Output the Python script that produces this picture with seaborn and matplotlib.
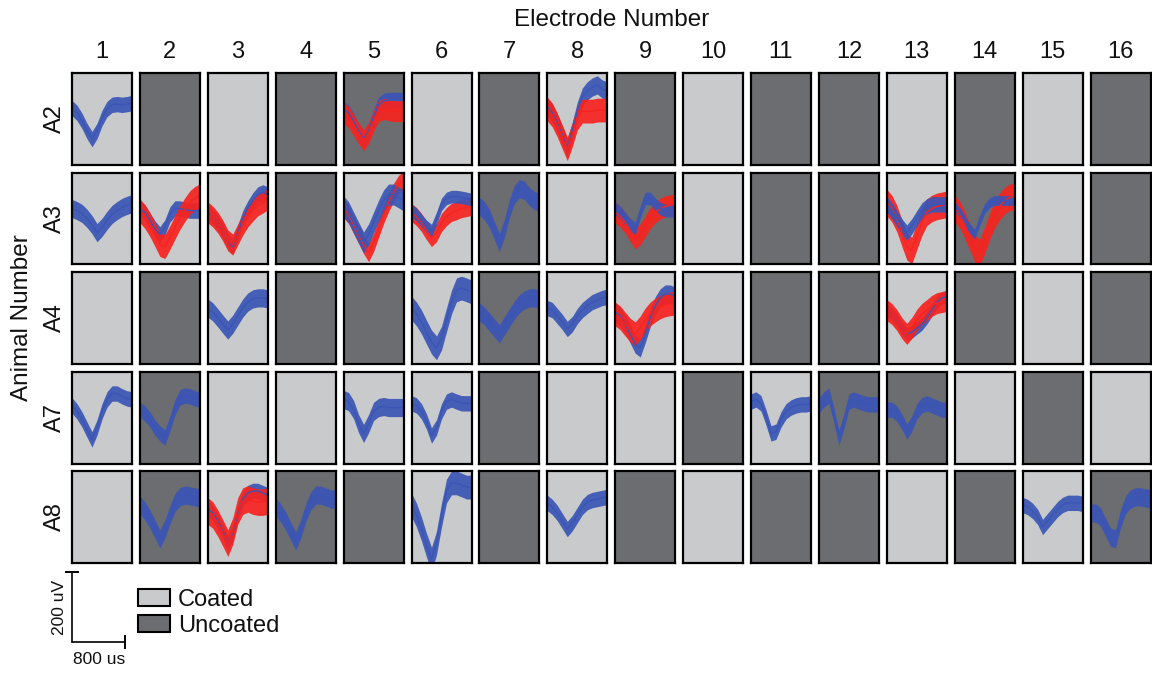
import pandas as pd
import matplotlib
matplotlib.use("Agg")
import matplotlib.pyplot as plt
from matplotlib.patches import Patch
import seaborn as sns

sns.set_theme(style="white")
plt.rcParams['font.family'] = ['Liberation Sans', 'DejaVu Sans']
plt.rcParams['text.color'] = '#111111'

# grid labels
animals = ['A2', 'A3', 'A4', 'A7', 'A8']
electrodes = list(range(1, 17))

# C = coated, U = uncoated, one entry per electrode
coating_A2 = ['C', 'U', 'C', 'U', 'U', 'C', 'U', 'C', 'U', 'C', 'U', 'U', 'C', 'U', 'C', 'U']
coating_A3 = ['C', 'C', 'C', 'U', 'C', 'C', 'U', 'C', 'U', 'C', 'U', 'U', 'C', 'U', 'C', 'U']
coating_A4 = ['C', 'U', 'C', 'U', 'U', 'C', 'U', 'C', 'C', 'C', 'U', 'U', 'C', 'U', 'C', 'U']
coating_A7 = ['C', 'U', 'C', 'C', 'C', 'C', 'U', 'C', 'C', 'U', 'C', 'U', 'U', 'C', 'U', 'C']
coating_A8 = ['C', 'U', 'C', 'U', 'U', 'C', 'U', 'C', 'U', 'C', 'U', 'U', 'C', 'U', 'C', 'U']
coating = {'A2': coating_A2, 'A3': coating_A3, 'A4': coating_A4, 'A7': coating_A7, 'A8': coating_A8}

# waveform samples (us)
time_us = [0, 75, 150, 225, 300, 375, 450, 525, 600, 675, 750, 825, 900]

# sorted units: where they were recorded, cluster colour, spread and mean waveform (uV)
unit_animal = ['A2', 'A2', 'A2', 'A2', 'A2',
               'A3', 'A3', 'A3', 'A3', 'A3', 'A3', 'A3', 'A3', 'A3', 'A3', 'A3', 'A3', 'A3', 'A3', 'A3', 'A3',
               'A4', 'A4', 'A4', 'A4', 'A4', 'A4', 'A4', 'A4',
               'A7', 'A7', 'A7', 'A7', 'A7', 'A7', 'A7',
               'A8', 'A8', 'A8', 'A8', 'A8', 'A8', 'A8', 'A8']
unit_electrode = [1, 5, 5, 8, 8,
                  1, 2, 2, 3, 3, 5, 5, 6, 6, 7, 9, 9, 13, 13, 14, 14,
                  3, 6, 7, 8, 9, 9, 13, 13,
                  1, 2, 5, 6, 11, 12, 13,
                  2, 3, 3, 4, 6, 8, 15, 16]
unit_colour = ['blue', 'blue', 'red', 'blue', 'red',
               'blue', 'blue', 'red', 'blue', 'red', 'red', 'blue', 'red', 'blue', 'blue', 'red', 'blue',
               'red', 'blue', 'red', 'blue',
               'blue', 'blue', 'blue', 'blue', 'blue', 'red', 'blue', 'red',
               'blue', 'blue', 'blue', 'blue', 'blue', 'blue', 'blue',
               'blue', 'blue', 'red', 'blue', 'blue', 'blue', 'blue', 'blue']
unit_spread_uv = [22, 22, 30, 26, 34,
                  26, 22, 34, 22, 30, 26, 30, 26, 18, 26, 30, 18, 38, 22, 38, 14,
                  26, 34, 26, 22, 26, 34, 18, 30,
                  22, 22, 26, 22, 22, 22, 22,
                  26, 22, 38, 26, 34, 22, 22, 26]
unit_wave_uv = [
    [-20, -34, -57, -86, -109, -86, -49, -23, -11, -9, -11, -9, -6],
    [-23, -34, -57, -86, -109, -86, -46, -11, 0, 3, 3, 3, 3],
    [-34, -46, -69, -92, -112, -92, -57, -29, -23, -26, -29, -29, -29],
    [-17, -34, -63, -97, -134, -86, -29, 11, 29, 40, 46, 34, 29],
    [-23, -40, -69, -103, -137, -97, -49, -29, -29, -29, -26, -26, -26],
    [-23, -29, -37, -51, -69, -92, -77, -57, -40, -29, -20, -14, -9],
    [-23, -34, -57, -80, -97, -77, -40, -23, -23, -26, -29, -29, -29],
    [-29, -46, -69, -97, -126, -132, -106, -77, -49, -26, -6, 6, 14],
    [-34, -46, -63, -86, -114, -132, -92, -51, -23, 0, 17, 23, 17],
    [-34, -46, -63, -86, -114, -126, -97, -69, -46, -29, -14, -6, 3],
    [-23, -40, -69, -97, -126, -149, -120, -80, -40, -6, 23, 46, 57],
    [-17, -34, -63, -92, -120, -97, -63, -29, 0, 17, 17, 9, 0],
    [-34, -46, -63, -86, -106, -92, -63, -46, -34, -29, -23, -20, -17],
    [-29, -40, -57, -74, -86, -51, -11, 6, 11, 11, 9, 6, 3],
    [-17, -29, -51, -86, -120, -80, -23, 17, 34, 29, 11, 0, -6],
    [-34, -46, -63, -86, -109, -97, -74, -51, -34, -23, -17, -14, -11],
    [-23, -34, -51, -69, -80, -34, 6, 6, -11, -23, -29, -29, -29],
    [-6, -23, -51, -92, -132, -143, -103, -63, -34, -23, -17, -14, -11],
    [-11, -29, -51, -74, -92, -74, -51, -29, -17, -11, -11, -11, -11],
    [-23, -40, -69, -103, -137, -149, -114, -74, -40, -17, 0, 9, 11],
    [-17, -34, -57, -80, -97, -57, -23, -6, 0, 0, 0, 0, 0],
    [-23, -34, -51, -69, -86, -69, -46, -23, -6, 3, 6, 6, 3],
    [-23, -40, -63, -92, -120, -137, -109, -57, -6, 29, 34, 29, 23],
    [-34, -46, -63, -80, -97, -74, -51, -29, -11, 0, 6, 6, 3],
    [-23, -29, -46, -63, -83, -69, -46, -29, -17, -6, 0, 6, 9],
    [-34, -46, -69, -97, -126, -137, -97, -51, -17, 6, 17, 17, 11],
    [-40, -51, -69, -86, -97, -80, -57, -40, -29, -20, -14, -11, -9],
    [-29, -40, -57, -80, -97, -92, -80, -69, -51, -29, -6, 6, 9],
    [-29, -40, -57, -80, -97, -80, -57, -40, -29, -17, -9, -6, -3],
    [-17, -34, -57, -86, -114, -80, -34, 0, 17, 17, 9, 3, 0],
    [-29, -40, -57, -80, -97, -109, -69, -23, 6, 11, 9, 3, 0],
    [0, -6, -29, -69, -97, -69, -34, -23, -20, -23, -23, -23, -23],
    [-11, -17, -34, -63, -103, -80, -34, -6, 0, -6, -11, -11, -11],
    [-6, 0, -11, -51, -97, -92, -57, -34, -23, -17, -14, -14, -11],
    [-17, 0, 11, -46, -109, -63, -6, 0, -6, -11, -14, -14, -14],
    [-29, -29, -40, -63, -92, -69, -34, -17, -11, -17, -23, -29, -29],
    [-17, -34, -57, -86, -114, -86, -46, -11, 6, 11, 9, 6, 3],
    [-29, -40, -63, -92, -126, -97, -40, 0, 17, 23, 23, 17, 11],
    [-34, -46, -69, -97, -126, -92, -34, -6, 0, -6, -9, -9, -6],
    [-23, -40, -63, -92, -120, -86, -40, -6, 11, 11, 6, 0, 0],
    [-17, -46, -86, -132, -172, -126, -46, 23, 46, 46, 40, 34, 34],
    [-11, -23, -40, -63, -86, -69, -46, -23, -9, -3, 0, 3, 6],
    [-17, -23, -34, -51, -80, -63, -46, -29, -17, -11, -11, -11, -14],
    [-40, -40, -51, -80, -109, -114, -57, -17, 0, 6, 6, 3, 0],
]

# scale bar
scale_bar_uv = 200
scale_bar_us = 800

colours = {'blue': '#3a55b5', 'red': '#f7231f'}
fills = {'C': '#c8cacc', 'U': '#6b6d70'}

# long table: each sample gives mean, lower and upper edge of the cluster
rows = []
for i in range(len(unit_wave_uv)):
    for t, v in zip(time_us, unit_wave_uv[i]):
        for edge in (-unit_spread_uv[i], 0, unit_spread_uv[i]):
            rows.append({'unit': i, 'animal': unit_animal[i], 'electrode': unit_electrode[i],
                         'colour': unit_colour[i], 'time_us': t, 'uv': v + edge})
df = pd.DataFrame(rows)

W, H = 1152, 673
fig = plt.figure(figsize=(W / 100, H / 100), dpi=100)


def px_axes(x, y, w, h):
    return fig.add_axes([x / W, 1 - (y + h) / H, w / W, h / H])


panel_w, panel_h = 60, 92
col_step, row_step = 67.9, 99.5
x0, y0 = 72, 73
ylim = (-183, 80)

for r, a in enumerate(animals):
    for c, e in enumerate(electrodes):
        ax = px_axes(x0 + c * col_step, y0 + r * row_step, panel_w, panel_h)
        ax.set_facecolor(fills[coating[a][c]])
        sub = df[(df['animal'] == a) & (df['electrode'] == e)]
        for u in sub['unit'].unique():
            d = sub[sub['unit'] == u]
            sns.lineplot(data=d, x='time_us', y='uv', errorbar=('pi', 100),
                         color=colours[d['colour'].iloc[0]], linewidth=1.0,
                         err_kws={'alpha': 0.92, 'linewidth': 0}, ax=ax)
        ax.set_xlim(time_us[0], time_us[-1])
        ax.set_ylim(*ylim)
        ax.set_xticks([])
        ax.set_yticks([])
        ax.set_xlabel('')
        ax.set_ylabel('')
        for s in ax.spines.values():
            s.set_color('black')
            s.set_linewidth(1.6)
        if r == 0:
            fig.text((x0 + c * col_step + panel_w / 2) / W, 1 - 52 / H, str(e),
                     ha='center', va='center', fontsize=17)
    fig.text(55 / W, 1 - (y0 + r * row_step + panel_h / 2) / H, a, rotation=90,
             ha='center', va='center', fontsize=17)

fig.text(612 / W, 1 - 20 / H, 'Electrode Number', ha='center', va='center', fontsize=17.5)
fig.text(22 / W, 1 - 318 / H, 'Animal Number', rotation=90, ha='center', va='center', fontsize=17.5)

# scale bar drawn with the same units as the panels
sax = px_axes(72, 572, panel_w, panel_h)
sax.set_xlim(time_us[0], time_us[-1])
sax.set_ylim(scale_bar_uv - (ylim[1] - ylim[0]), scale_bar_uv)
sax.axis('off')
sax.plot([0, 0], [0, scale_bar_uv], color='black', lw=1.2, clip_on=False)
sax.plot([0, scale_bar_us], [0, 0], color='black', lw=1.2, clip_on=False)
sax.plot([0], [scale_bar_uv], marker='_', ms=10, mew=1.4, color='black', clip_on=False)
sax.plot([scale_bar_us], [0], marker='|', ms=10, mew=1.4, color='black', clip_on=False)
sax.annotate('200 uV', xy=(0, scale_bar_uv / 2), xytext=(-12, 0), textcoords='offset pixels',
             rotation=90, ha='center', va='center', fontsize=12.5)
sax.annotate('800 us', xy=(scale_bar_us / 2, 0), xytext=(0, -18), textcoords='offset pixels',
             ha='center', va='center', fontsize=12.5)

handles = [Patch(facecolor=fills['C'], edgecolor='black', linewidth=1.5, label='Coated'),
           Patch(facecolor=fills['U'], edgecolor='black', linewidth=1.5, label='Uncoated')]
fig.legend(handles=handles, loc='upper left', bbox_to_anchor=(138 / W, 1 - 589 / H),
           frameon=False, fontsize=17, handlelength=1.35, handleheight=0.7,
           handletextpad=0.35, labelspacing=0.15, borderpad=0, borderaxespad=0)

fig.savefig('out.png', dpi=100)
